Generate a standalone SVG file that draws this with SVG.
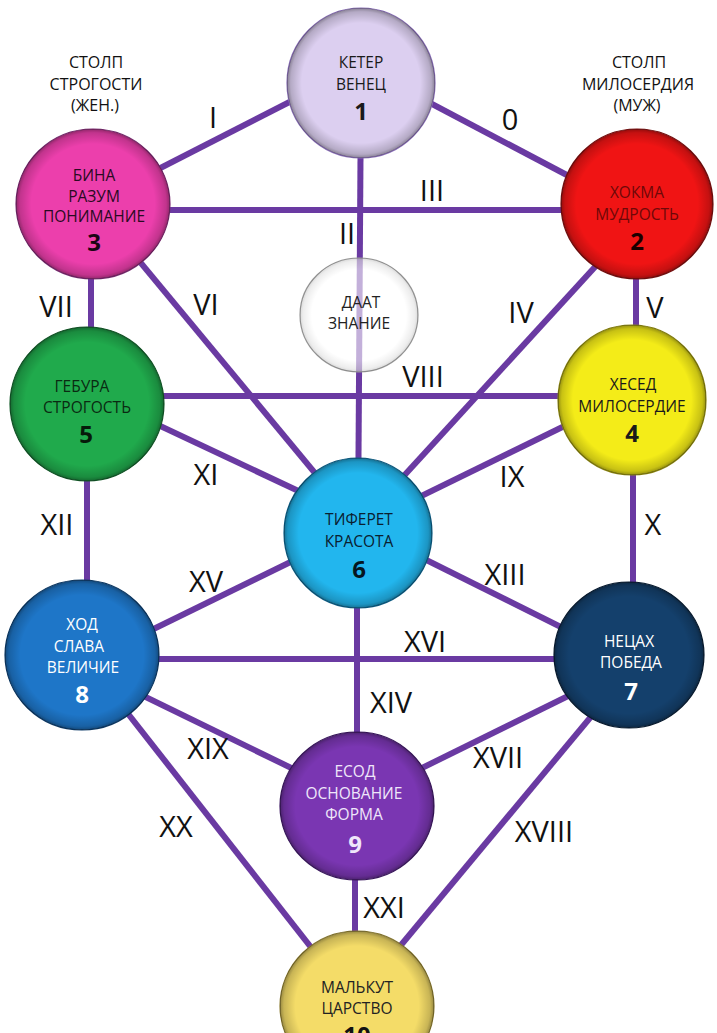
<svg xmlns="http://www.w3.org/2000/svg" width="717" height="1033" viewBox="0 0 717 1033">
<defs>
<radialGradient id="bevel" cx="0.5" cy="0.5" r="0.5">
<stop offset="0.8" stop-color="#000" stop-opacity="0"/>
<stop offset="0.95" stop-color="#000" stop-opacity="0.18"/>
<stop offset="1" stop-color="#000" stop-opacity="0.38"/>
</radialGradient>
</defs>
<style>
.bg{fill:#fff}
.ln{stroke:#6a3aa2;stroke-width:6;stroke-linecap:butt;fill:none}
.rim{stroke-width:1.2}
.ov{fill:url(#bevel)}
.t{font-family:"Open Sans","Liberation Sans",sans-serif;font-size:15.5px;text-anchor:middle}
.n{font-family:"Open Sans","Liberation Sans",sans-serif;font-size:24px;font-weight:700;text-anchor:middle}
.r{font-family:"Open Sans","Liberation Sans",sans-serif;font-size:29px;font-weight:400;text-anchor:middle;fill:#111}
.p{font-family:"Open Sans","Liberation Sans",sans-serif;font-size:16px;text-anchor:middle;fill:#111}
.dk{fill:#1a1a1a}
.wh{fill:#fff}
</style>
<rect class="bg" width="717" height="1033"/>

<g id="pillars">
<text class="p" x="96" y="68">СТОЛП</text>
<text class="p" x="96" y="90">СТРОГОСТИ</text>
<text class="p" x="95" y="111">(ЖЕН.)</text>
<text class="p" x="639" y="68">СТОЛП</text>
<text class="p" x="638" y="90">МИЛОСЕРДИЯ</text>
<text class="p" x="637" y="111">(МУЖ)</text>
</g>

<g id="connectors">
<line class="ln" x1="92" y1="203" x2="360" y2="66"/>
<line class="ln" x1="360" y1="66" x2="637" y2="212"/>
<line class="ln" x1="361" y1="83" x2="358" y2="530"/>
<line class="ln" x1="92" y1="210" x2="637" y2="210"/>
<line class="ln" x1="637" y1="221" x2="358" y2="526"/>
<line class="ln" x1="636" y1="205" x2="636" y2="400"/>
<line class="ln" x1="92" y1="204" x2="358" y2="525"/>
<line class="ln" x1="91" y1="205" x2="91" y2="402"/>
<line class="ln" x1="87" y1="396" x2="632" y2="396"/>
<line class="ln" x1="632" y1="393" x2="358" y2="527"/>
<line class="ln" x1="633" y1="400" x2="633" y2="655"/>
<line class="ln" x1="88" y1="392" x2="358" y2="519"/>
<line class="ln" x1="87" y1="402" x2="87" y2="655"/>
<line class="ln" x1="358" y1="526" x2="629" y2="661"/>
<line class="ln" x1="357" y1="530" x2="357" y2="805"/>
<line class="ln" x1="358" y1="529" x2="82" y2="664"/>
<line class="ln" x1="82" y1="659" x2="629" y2="659"/>
<line class="ln" x1="629" y1="666" x2="357" y2="800"/>
<line class="ln" x1="629" y1="671" x2="357" y2="998"/>
<line class="ln" x1="82" y1="666" x2="357" y2="800"/>
<line class="ln" x1="82" y1="655" x2="357" y2="1006"/>
<line class="ln" x1="355" y1="805" x2="355" y2="1006"/>
</g>

<g id="labels">
<text class="r" x="213" y="128">I</text>
<text class="r" x="510" y="130">0</text>
<text class="r" x="432" y="201">III</text>
<text class="r" x="347" y="244">II</text>
<text class="r" x="56" y="317">VII</text>
<text class="r" x="206" y="315">VI</text>
<text class="r" x="521" y="323">IV</text>
<text class="r" x="655" y="318">V</text>
<text class="r" x="423" y="387">VIII</text>
<text class="r" x="206" y="485">XI</text>
<text class="r" x="512" y="487">IX</text>
<text class="r" x="57" y="535">XII</text>
<text class="r" x="653" y="535">X</text>
<text class="r" x="206" y="592">XV</text>
<text class="r" x="505" y="585">XIII</text>
<text class="r" x="425" y="652">XVI</text>
<text class="r" x="391" y="713">XIV</text>
<text class="r" x="208" y="759">XIX</text>
<text class="r" x="498" y="768">XVII</text>
<text class="r" x="176" y="837">XX</text>
<text class="r" x="544" y="842">XVIII</text>
<text class="r" x="384" y="918">XXI</text>
</g>

<g id="keter">
<ellipse cx="361" cy="83" rx="74" ry="75" fill="#dccff0" stroke="#8a6fb8" class="rim"/>
<ellipse cx="361" cy="83" rx="74" ry="75" class="ov"/>
<text class="t dk" x="361" y="68">КЕТЕР</text>
<text class="t dk" x="361" y="90">ВЕНЕЦ</text>
<text class="n dk" x="361" y="120">1</text>
</g>

<g id="bina">
<ellipse cx="93" cy="204" rx="77" ry="75" fill="#ec3fac" stroke="#7a2a72" class="rim"/>
<ellipse cx="93" cy="204" rx="77" ry="75" class="ov"/>
<text class="t" fill="#2a0a22" x="94" y="181">БИНА</text>
<text class="t" fill="#2a0a22" x="94" y="202">РАЗУМ</text>
<text class="t" fill="#2a0a22" x="94" y="222">ПОНИМАНИЕ</text>
<text class="n" fill="#1a0514" x="94" y="251">3</text>
</g>

<g id="hokhma">
<ellipse cx="637" cy="204" rx="76" ry="75" fill="#f01414" stroke="#7a1010" class="rim"/>
<ellipse cx="637" cy="204" rx="76" ry="75" class="ov"/>
<text class="t" fill="#6e0808" x="637" y="198">ХОКМА</text>
<text class="t" fill="#6e0808" x="637" y="220">МУДРОСТЬ</text>
<text class="n" fill="#1a0000" x="637" y="250">2</text>
</g>

<g id="daat">
<ellipse cx="359" cy="315" rx="59" ry="57" fill="#fff" fill-opacity="0.6" stroke="#9a9a9a" stroke-width="1.2"/>
<ellipse cx="359" cy="315" rx="59" ry="57" fill="url(#bevel)" opacity="0.4"/>
<text class="t" fill="#222" x="361" y="308">ДААТ</text>
<text class="t" fill="#222" x="359" y="329">ЗНАНИЕ</text>
</g>

<g id="gebura">
<ellipse cx="87" cy="404" rx="77" ry="77" fill="#20aa4c" stroke="#145c2a" class="rim"/>
<ellipse cx="87" cy="404" rx="77" ry="77" class="ov"/>
<text class="t" fill="#0a2a12" x="82" y="392">ГЕБУРА</text>
<text class="t" fill="#0a2a12" x="87" y="413">СТРОГОСТЬ</text>
<text class="n" fill="#061a0a" x="86" y="443">5</text>
</g>

<g id="hesed">
<ellipse cx="632" cy="400" rx="74" ry="75" fill="#f4ec18" stroke="#8a8410" class="rim"/>
<ellipse cx="632" cy="400" rx="74" ry="75" class="ov"/>
<text class="t dk" x="633" y="390">ХЕСЕД</text>
<text class="t dk" x="632" y="412">МИЛОСЕРДИЕ</text>
<text class="n dk" x="632" y="442">4</text>
</g>

<g id="tiferet">
<ellipse cx="358" cy="533" rx="74" ry="75" fill="#22b6ee" stroke="#0d5e86" class="rim"/>
<ellipse cx="358" cy="533" rx="74" ry="75" class="ov"/>
<text class="t" fill="#0a2030" x="359" y="525">ТИФЕРЕТ</text>
<text class="t" fill="#0a2030" x="359" y="547">КРАСОТА</text>
<text class="n" fill="#061620" x="359" y="578">6</text>
</g>

<g id="hod">
<ellipse cx="82" cy="655" rx="77" ry="75" fill="#1e76c8" stroke="#0c3a68" class="rim"/>
<ellipse cx="82" cy="655" rx="77" ry="75" class="ov"/>
<text class="t wh" x="82" y="630">ХОД</text>
<text class="t wh" x="79" y="652">СЛАВА</text>
<text class="t wh" x="83" y="673">ВЕЛИЧИЕ</text>
<text class="n wh" x="82" y="703">8</text>
</g>

<g id="netzach">
<ellipse cx="629" cy="655" rx="75" ry="73" fill="#14406c" stroke="#081c32" class="rim"/>
<ellipse cx="629" cy="655" rx="75" ry="73" class="ov"/>
<text class="t wh" x="629" y="647">НЕЦАХ</text>
<text class="t wh" x="631" y="668">ПОБЕДА</text>
<text class="n wh" x="631" y="700">7</text>
</g>

<g id="yesod">
<ellipse cx="357" cy="806" rx="77" ry="74" fill="#7a36b2" stroke="#3a1660" class="rim"/>
<ellipse cx="357" cy="806" rx="77" ry="74" class="ov"/>
<text class="t" fill="#efe6fa" x="355" y="777">ЕСОД</text>
<text class="t" fill="#efe6fa" x="354" y="799">ОСНОВАНИЕ</text>
<text class="t" fill="#efe6fa" x="354" y="820">ФОРМА</text>
<text class="n" fill="#efe6fa" x="355" y="853">9</text>
</g>

<g id="malkut">
<ellipse cx="357" cy="1006" rx="77" ry="75" fill="#f4dc68" stroke="#8a7a30" class="rim"/>
<ellipse cx="357" cy="1006" rx="77" ry="75" class="ov"/>
<text class="t" fill="#222" x="357" y="993">МАЛЬКУТ</text>
<text class="t" fill="#222" x="357" y="1014">ЦАРСТВО</text>
<text class="n" fill="#111" x="357" y="1044">10</text>
</g>
</svg>
